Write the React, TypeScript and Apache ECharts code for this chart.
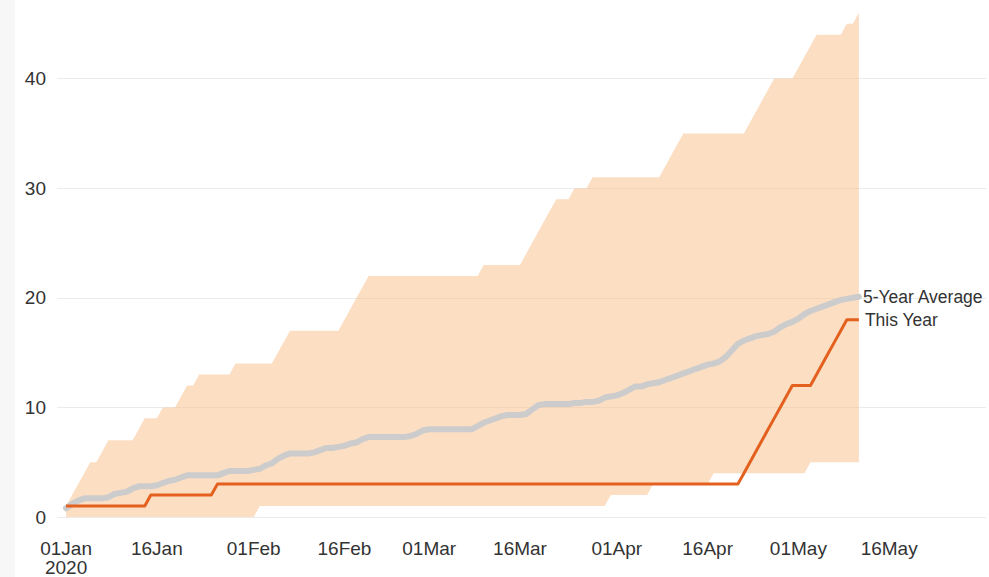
import React, { useEffect, useRef } from "react";
import * as echarts from "echarts";

// Day index 0 = 01 Jan 2020, one value per day up to 11 May 2020 (day 131)
const thisYear = [
  1, 1, 1, 1, 1, 1, 1, 1, 1, 1,
  1, 1, 1, 1, 2, 2, 2, 2, 2, 2,
  2, 2, 2, 2, 2, 3, 3, 3, 3, 3,
  3, 3, 3, 3, 3, 3, 3, 3, 3, 3,
  3, 3, 3, 3, 3, 3, 3, 3, 3, 3,
  3, 3, 3, 3, 3, 3, 3, 3, 3, 3,
  3, 3, 3, 3, 3, 3, 3, 3, 3, 3,
  3, 3, 3, 3, 3, 3, 3, 3, 3, 3,
  3, 3, 3, 3, 3, 3, 3, 3, 3, 3,
  3, 3, 3, 3, 3, 3, 3, 3, 3, 3,
  3, 3, 3, 3, 3, 3, 3, 3, 3, 3,
  3, 3, 4, 5, 6, 7, 8, 9, 10, 11,
  12, 12, 12, 12, 13, 14, 15, 16, 17, 18,
  18, 18,
];

const fiveYearAverage = [
  0.8, 1.2, 1.5, 1.7, 1.7, 1.7, 1.7, 1.8, 2.1, 2.2,
  2.3, 2.6, 2.8, 2.8, 2.8, 2.9, 3.1, 3.3, 3.4, 3.6,
  3.8, 3.8, 3.8, 3.8, 3.8, 3.8, 4.0, 4.2, 4.2, 4.2,
  4.2, 4.3, 4.4, 4.7, 4.9, 5.3, 5.6, 5.8, 5.8, 5.8,
  5.8, 5.9, 6.1, 6.3, 6.3, 6.4, 6.5, 6.7, 6.8, 7.1,
  7.3, 7.3, 7.3, 7.3, 7.3, 7.3, 7.3, 7.4, 7.6, 7.9,
  8.0, 8.0, 8.0, 8.0, 8.0, 8.0, 8.0, 8.0, 8.3, 8.6,
  8.8, 9.0, 9.2, 9.3, 9.3, 9.3, 9.4, 9.8, 10.2, 10.3,
  10.3, 10.3, 10.3, 10.3, 10.4, 10.4, 10.5, 10.5, 10.6, 10.9,
  11.0, 11.1, 11.3, 11.6, 11.9, 11.9, 12.1, 12.2, 12.3, 12.5,
  12.7, 12.9, 13.1, 13.3, 13.5, 13.7, 13.9, 14.0, 14.2, 14.6,
  15.2, 15.8, 16.1, 16.3, 16.5, 16.6, 16.7, 16.9, 17.3, 17.6,
  17.8, 18.1, 18.5, 18.8, 19.0, 19.2, 19.4, 19.6, 19.8, 19.9,
  20.0, 20.1,
];

const rangeLow = [
  0, 0, 0, 0, 0, 0, 0, 0, 0, 0,
  0, 0, 0, 0, 0, 0, 0, 0, 0, 0,
  0, 0, 0, 0, 0, 0, 0, 0, 0, 0,
  0, 0, 1, 1, 1, 1, 1, 1, 1, 1,
  1, 1, 1, 1, 1, 1, 1, 1, 1, 1,
  1, 1, 1, 1, 1, 1, 1, 1, 1, 1,
  1, 1, 1, 1, 1, 1, 1, 1, 1, 1,
  1, 1, 1, 1, 1, 1, 1, 1, 1, 1,
  1, 1, 1, 1, 1, 1, 1, 1, 1, 1,
  2, 2, 2, 2, 2, 2, 2, 3, 3, 3,
  3, 3, 3, 3, 3, 3, 3, 4, 4, 4,
  4, 4, 4, 4, 4, 4, 4, 4, 4, 4,
  4, 4, 4, 5, 5, 5, 5, 5, 5, 5,
  5, 5,
];

const rangeHigh = [
  1, 2, 3, 4, 5, 5, 6, 7, 7, 7,
  7, 7, 8, 9, 9, 9, 10, 10, 10, 11,
  12, 12, 13, 13, 13, 13, 13, 13, 14, 14,
  14, 14, 14, 14, 14, 15, 16, 17, 17, 17,
  17, 17, 17, 17, 17, 17, 18, 19, 20, 21,
  22, 22, 22, 22, 22, 22, 22, 22, 22, 22,
  22, 22, 22, 22, 22, 22, 22, 22, 22, 23,
  23, 23, 23, 23, 23, 23, 24, 25, 26, 27,
  28, 29, 29, 29, 30, 30, 30, 31, 31, 31,
  31, 31, 31, 31, 31, 31, 31, 31, 31, 32,
  33, 34, 35, 35, 35, 35, 35, 35, 35, 35,
  35, 35, 35, 36, 37, 38, 39, 40, 40, 40,
  40, 41, 42, 43, 44, 44, 44, 44, 44, 45,
  45, 46,
];

const xTickDays = [0, 15, 31, 46, 60, 75, 91, 106, 121, 136];
const xTickLabels = [
  "01Jan\n2020", "16Jan", "01Feb", "16Feb", "01Mar",
  "16Mar", "01Apr", "16Apr", "01May", "16May",
];
const yTicks = [0, 10, 20, 30, 40];

const FONT = "'Liberation Sans', Arial, sans-serif";

export default function App() {
  const ref = useRef<HTMLDivElement>(null);

  useEffect(() => {
    if (!ref.current) return;
    const chart = echarts.init(ref.current, null, { renderer: "svg" });

    const pts = (arr: number[]) => arr.map((v, i) => [i, v]);
    const bandData = rangeHigh.map((h, i) => [i, rangeLow[i], h]);

    const option: any = {
      animation: false,
      grid: { left: 57, right: 0, top: 0, bottom: 60, containLabel: false },
      xAxis: {
        type: "value",
        min: -1.5,
        max: 152,
        interval: 0.5,
        axisLine: { show: false },
        axisTick: { show: false },
        splitLine: { show: false },
        axisLabel: {
          color: "#333",
          fontSize: 19,
          fontFamily: FONT,
          margin: 22,
          lineHeight: 19,
          formatter: (v: number) => {
            const k = xTickDays.findIndex((d) => Math.abs(d - v) < 1e-6);
            return k >= 0 ? xTickLabels[k] : "";
          },
        },
      },
      yAxis: {
        type: "value",
        min: 0,
        max: 50,
        interval: 10,
        axisLine: { show: false },
        axisTick: { show: false },
        splitLine: { lineStyle: { color: "#ebebeb", width: 1 } },
        axisLabel: {
          color: "#333",
          fontSize: 19,
          fontFamily: FONT,
          margin: 11,
          formatter: (v: number) => (yTicks.indexOf(v) >= 0 ? String(v) : ""),
        },
      },
      series: [
        {
          type: "custom",
          name: "Range",
          data: bandData,
          encode: { x: 0, y: [1, 2] },
          silent: true,
          renderItem: (params: any, api: any) => {
            if (params.dataIndex !== 0) return null;
            const points: number[][] = [];
            for (let i = 0; i < rangeHigh.length; i++) {
              points.push(api.coord([i, rangeHigh[i]]));
            }
            for (let i = rangeLow.length - 1; i >= 0; i--) {
              points.push(api.coord([i, rangeLow[i]]));
            }
            return {
              type: "polygon",
              shape: { points },
              style: { fill: "rgba(250,190,135,0.5)" },
            };
          },
        },
        {
          type: "line",
          name: "5-Year Average",
          data: pts(fiveYearAverage),
          symbol: "none",
          lineStyle: { color: "#cccccc", width: 6, cap: "round", join: "round" },
          endLabel: {
            show: true,
            formatter: "{a}",
            color: "#333",
            fontSize: 17.5,
            fontFamily: FONT,
            distance: 4,
          },
        },
        {
          type: "line",
          name: "This Year",
          data: pts(thisYear),
          symbol: "none",
          lineStyle: { color: "#e4601e", width: 3, join: "round" },
          endLabel: {
            show: true,
            formatter: "{a}",
            color: "#333",
            fontSize: 17.5,
            fontFamily: FONT,
            distance: 6,
          },
        },
      ],
    };

    chart.setOption(option);
    return () => chart.dispose();
  }, []);

  return (
    <>
      <div
        style={{
          position: "absolute",
          left: 0,
          top: 0,
          width: 15,
          height: 577,
          background: "#f7f7f7",
        }}
      />
      <div
        ref={ref}
        style={{ position: "absolute", left: 0, top: -31, width: 989, height: 608 }}
      />
    </>
  );
}
